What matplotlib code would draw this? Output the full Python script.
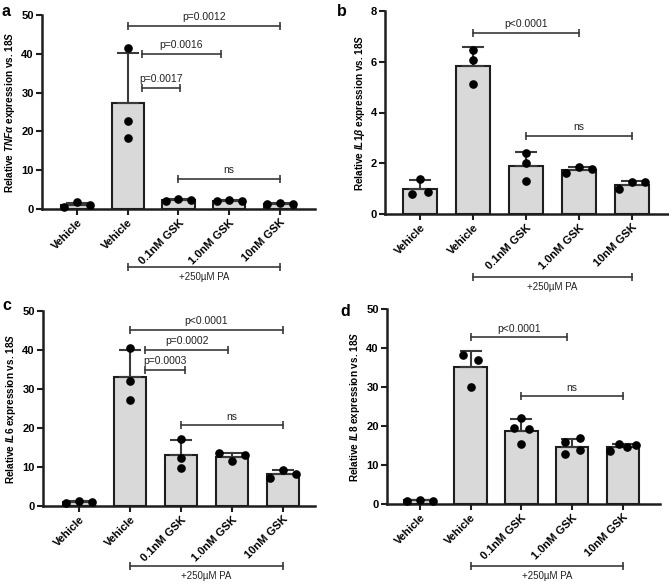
import matplotlib
matplotlib.use("Agg")
import matplotlib.pyplot as plt
import numpy as np

plt.rcParams['font.family'] = ['Liberation Sans', 'DejaVu Sans']
plt.rcParams['mathtext.fontset'] = 'custom'
plt.rcParams['mathtext.rm'] = 'Liberation Sans:bold'
plt.rcParams['mathtext.it'] = 'Liberation Sans:bold:italic'
plt.rcParams['mathtext.bf'] = 'Liberation Sans:bold'

# ---------------- data ----------------
groups = ["Vehicle", "Vehicle", "0.1nM GSK", "1.0nM GSK", "10nM GSK"]

a_points = [[0.5, 1.7, 1.1], [41.6, 22.8, 18.4], [2.0, 2.7, 2.4], [2.0, 2.4, 2.0], [1.3, 1.5, 1.3]]
a_mean = [1.1, 27.4, 2.4, 2.15, 1.4]
a_err = [0.5, 12.7, 0.3, 0.2, 0.15]
a_sig = [(1, 4, 47.2, "p=0.0012"), (1.28, 2.83, 40.0, "p=0.0016"),
         (1.28, 2.02, 31.3, "p=0.0017"), (2, 4, 7.8, "ns")]

b_points = [[0.8, 1.38, 0.86], [6.45, 6.08, 5.13], [2.4, 2.02, 1.3], [1.6, 1.84, 1.77], [1.0, 1.26, 1.25]]
b_mean = [1.0, 5.85, 1.9, 1.72, 1.14]
b_err = [0.35, 0.72, 0.55, 0.13, 0.16]
b_sig = [(1, 3, 7.13, "p<0.0001"), (2, 4, 3.08, "ns")]

c_points = [[0.87, 1.3, 0.96], [40.6, 32.1, 27.3], [17.1, 12.3, 9.7], [13.7, 11.5, 13.0], [7.2, 9.3, 8.2]]
c_mean = [1.0, 33.1, 13.0, 12.6, 8.2]
c_err = [0.25, 7.0, 4.0, 1.1, 1.1]
c_sig = [(1, 4, 45.2, "p<0.0001"), (1.29, 2.93, 40.1, "p=0.0002"),
         (1.29, 2.07, 35.0, "p=0.0003"), (2, 4, 20.7, "ns")]

d_points = [[0.8, 1.05, 0.8], [38.2, 36.9, 30.1], [22.1, 19.5, 19.2, 15.4],
            [15.8, 16.8, 12.7, 13.8], [13.6, 15.3, 14.6, 15.2]]
d_mean = [0.9, 35.1, 18.8, 14.6, 14.6]
d_err = [0.15, 4.2, 3.0, 2.0, 0.7]
d_sig = [(1, 2.9, 42.7, "p<0.0001"), (2, 4, 27.6, "ns")]

pa_label = "+250\u00b5M PA"
pa_range = (1, 4)

panels = [
    dict(letter="a", gene=r"$\mathit{TNF\alpha}$", pts=a_points, mean=a_mean, err=a_err, sig=a_sig,
         ymax=50, yticks=[0, 10, 20, 30, 40, 50],
         box=(42, 315, 15, 209), xlim=(-0.69, 4.69), labx=-0.092, pa_y=-0.299, pa_ty=-0.35, lp=(2, 12)),
    dict(letter="b", gene=r"$\mathit{IL1\beta}$", pts=b_points, mean=b_mean, err=b_err, sig=b_sig,
         ymax=8, yticks=[0, 2, 4, 6, 8],
         box=(385, 668, 11, 214), xlim=(-0.66, 4.68), labx=-0.064, pa_y=-0.31, pa_ty=-0.36, lp=(337, 12)),
    dict(letter="c", gene=r"$\mathit{IL6}$", pts=c_points, mean=c_mean, err=c_err, sig=c_sig,
         ymax=50, yticks=[0, 10, 20, 30, 40, 50],
         box=(43, 315, 311, 506), xlim=(-0.71, 4.63), labx=-0.092, pa_y=-0.308, pa_ty=-0.36, lp=(2, 305)),
    dict(letter="d", gene=r"$\mathit{IL8}$", pts=d_points, mean=d_mean, err=d_err, sig=d_sig,
         ymax=50, yticks=[0, 10, 20, 30, 40, 50],
         box=(387, 660, 309, 504), xlim=(-0.65, 4.73), labx=-0.092, pa_y=-0.318, pa_ty=-0.37, lp=(340, 312)),
]

W, H = 669, 585
fig = plt.figure(figsize=(W / 100, H / 100), dpi=100)

BAR_FILL = "#d9d9d9"
EDGE = "#1e1e1e"
LINEC = "#3a3a3a"


def swarm_offsets(vals, px_per_unit, thresh=7.5):
    vals = list(vals)
    n = len(vals)
    order = sorted(range(n), key=lambda i: vals[i])
    clusters = []
    cur = [order[0]]
    for i in order[1:]:
        if abs(vals[i] - vals[cur[-1]]) * px_per_unit < thresh:
            cur.append(i)
        else:
            clusters.append(cur)
            cur = [i]
    clusters.append(cur)
    offs = [0.0] * n
    for cl in clusters:
        k = len(cl)
        if k == 1:
            continue
        total = min(0.3 * (k - 1), 0.5)
        step = total / (k - 1)
        for j, idx in enumerate(sorted(cl)):
            offs[idx] = -total / 2 + j * step
    return offs


for p in panels:
    l, r, t, b = p["box"]
    ax = fig.add_axes([l / W, 1 - b / H, (r - l) / W, (b - t) / H])
    x = np.arange(len(groups))
    ax.set_xlim(*p["xlim"])
    ax.set_ylim(0, p["ymax"])
    px_per_unit = (b - t) / p["ymax"]

    ax.bar(x, p["mean"], width=0.64, color=BAR_FILL, edgecolor=EDGE, linewidth=1.5, zorder=1)
    ax.errorbar(x, p["mean"], yerr=[np.zeros(len(x)), p["err"]], fmt="none", ecolor=LINEC,
                elinewidth=1.5, capsize=8, capthick=1.5, zorder=2)
    for i, vals in enumerate(p["pts"]):
        offs = swarm_offsets(vals, px_per_unit)
        ax.plot(i + np.array(offs), vals, "o", color="black", ms=5.2, zorder=3, clip_on=False)

    for x1, x2, y, txt in p["sig"]:
        ax.plot([x1, x2], [y, y], color=LINEC, lw=1.2, zorder=2, clip_on=False)
        ax.plot([x1, x2], [y, y], ls="none", marker="|", ms=6, mew=1.2, color=LINEC, clip_on=False)
        ax.annotate(txt, xy=((x1 + x2) / 2, y), xytext=(0, 6.3), textcoords="offset points",
                    ha="center", va="center", fontsize=7.5, color="#222222")

    tr = ax.get_xaxis_transform()
    ax.plot(list(pa_range), [p["pa_y"]] * 2, color=LINEC, lw=1.2, transform=tr, clip_on=False)
    ax.plot(list(pa_range), [p["pa_y"]] * 2, ls="none", marker="|", ms=6, mew=1.2, color=LINEC,
            transform=tr, clip_on=False)
    ax.text(np.mean(pa_range), p["pa_ty"], pa_label, transform=tr, ha="center", va="center",
            fontsize=7, color="#222222")

    ax.set_xticks(x)
    ax.set_xticklabels(groups, rotation=45, ha="right", va="top", rotation_mode="anchor",
                       fontsize=8, fontweight="bold")
    ax.set_yticks(p["yticks"])
    ax.set_yticklabels([str(v) for v in p["yticks"]], fontsize=8, fontweight="bold")
    ax.tick_params(axis="both", direction="out", length=4, width=1.5, color=EDGE, pad=2)
    for s in ["top", "right"]:
        ax.spines[s].set_visible(False)
    for s in ["left", "bottom"]:
        ax.spines[s].set_linewidth(1.8)
        ax.spines[s].set_color(EDGE)
    ax.set_ylabel("Relative " + p["gene"] + r" expression vs. $\mathit{18S}$",
                  fontsize=7.2, fontweight="bold")
    ax.yaxis.set_label_coords(p["labx"], 0.5)

    lx, ly = p["lp"]
    fig.text(lx / W, 1 - ly / H, p["letter"], fontsize=11.5, fontweight="bold", ha="left", va="center")

fig.savefig("out.png", dpi=100)
